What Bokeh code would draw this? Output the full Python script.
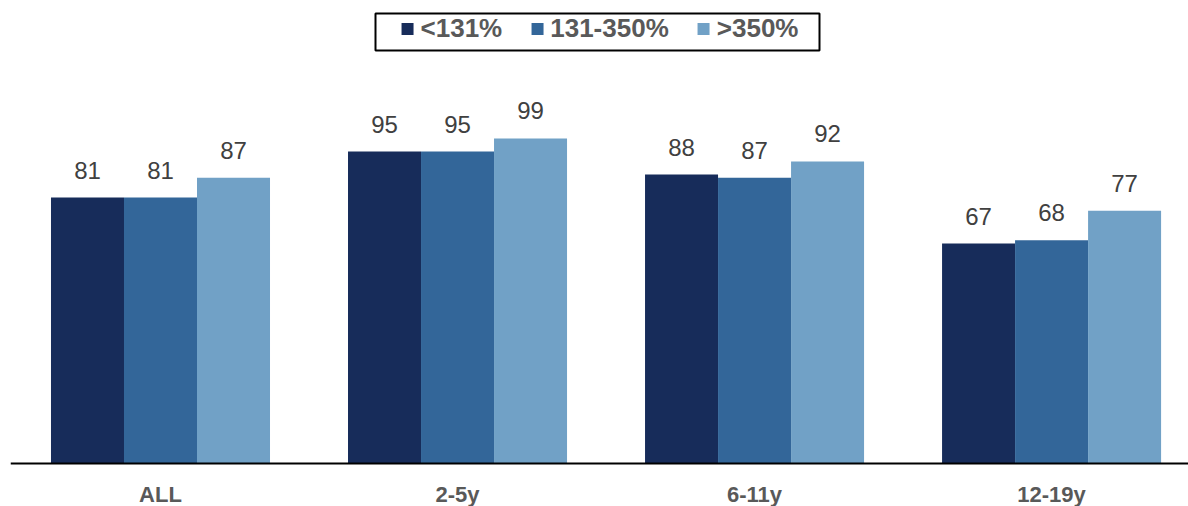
from bokeh.plotting import figure
from bokeh.models import (ColumnDataSource, Range1d, LabelSet, Legend,
                          LegendItem, BoxAnnotation, Span)
from bokeh.core.properties import value
from bokeh.embed import file_html
from bokeh.resources import INLINE

categories = ["ALL", "2-5y", "6-11y", "12-19y"]
series_names = ["<131%", "131-350%", ">350%"]
low = [81, 95, 88, 67]
mid = [81, 95, 87, 68]
high = [87, 99, 92, 77]
colors = ["#172C5A", "#336699", "#71A1C6"]

W, H = 1188, 506
p = figure(width=W, height=H, output_backend="svg", toolbar_location=None,
           x_range=Range1d(-0.505, 3.461), y_range=Range1d(-13.09, 141),
           min_border_left=10, min_border_right=0, min_border_top=0, min_border_bottom=0)
p.outline_line_color = None
p.grid.visible = False
p.yaxis.visible = False
p.xaxis.visible = False

bw = 0.2458
offsets = [-bw, 0, bw]
renderers = []
for vals, off, col in zip([low, mid, high], offsets, colors):
    src = ColumnDataSource(dict(x=[i + off for i in range(len(categories))], top=vals,
                                lab=[str(v) for v in vals]))
    r = p.vbar(x="x", top="top", width=bw, bottom=0, source=src, fill_color=col, line_color=None)
    renderers.append(r)
    p.add_layout(LabelSet(x="x", y="top", text="lab", source=src, text_align="center",
                          text_baseline="alphabetic", y_offset=19,
                          text_font=value("Liberation Sans"),
                          text_font_size="24px", text_color="#404040"))

# baseline (axis line)
p.add_layout(Span(location=0, dimension="width", line_color="black", line_width=2))

# category labels under the axis line
cat_src = ColumnDataSource(dict(x=list(range(len(categories))), y=[0] * len(categories),
                                lab=categories))
p.text(x="x", y="y", text="lab", source=cat_src, text_align="center",
       text_baseline="top", y_offset=18,
       text_font=value("Liberation Sans"), text_font_style="bold",
       text_font_size="22px", text_color="#595959")

# legend frame
p.add_layout(BoxAnnotation(left=365, right=809, top=493, bottom=456,
                           left_units="screen", right_units="screen",
                           top_units="screen", bottom_units="screen",
                           fill_color="white", fill_alpha=1,
                           line_color="black", line_width=2, line_alpha=1))

legend = Legend(items=[LegendItem(label=n, renderers=[r]) for n, r in zip(series_names, renderers)],
                orientation="horizontal", location="top_center", margin=13,
                border_line_color=None, background_fill_alpha=0,
                label_text_font="Liberation Sans", label_text_font_style="bold",
                label_text_font_size="26px", label_text_color="#595959",
                glyph_width=15, glyph_height=15, label_standoff=6, spacing=27,
                padding=3)
p.add_layout(legend)

open("out.html", "w").write(file_html(p, INLINE))
